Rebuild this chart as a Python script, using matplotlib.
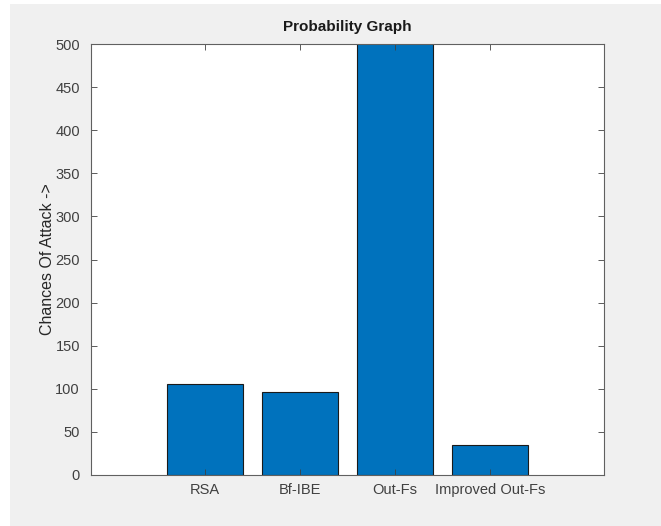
import numpy as np
import matplotlib
matplotlib.use('Agg')
import matplotlib.pyplot as plt
from matplotlib.patches import Rectangle

plt.rcParams['font.family'] = ['Liberation Sans', 'DejaVu Sans']

categories = ['RSA', 'Bf-IBE', 'Out-Fs', 'Improved Out-Fs']
values = [105, 96, 520, 35]

fig = plt.figure(figsize=(6.61, 5.26), dpi=100, facecolor='white')
# grey window area with a thin white strip on top and left
fig.patches.append(Rectangle((10/661, -0.1), 1.2, 1.1 - 4/526, transform=fig.transFigure,
                             facecolor='#f0f0f0', edgecolor='none', zorder=-10))
ax = fig.add_axes([91/661, 1 - 475/526, (604-91)/661, (475-44)/526])

x = np.arange(1, len(categories) + 1)
ax.bar(x, values, width=0.8, color='#0072bd', edgecolor='#1a1a1a', linewidth=0.8)

ax.set_xlim(-0.2, 5.2)
ax.set_ylim(0, 500)
ax.set_xticks(x)
ax.set_xticklabels(categories)
ax.set_yticks(np.arange(0, 501, 50))

ax.tick_params(direction='in', top=True, right=True, length=4, width=0.6,
               colors='#404040', labelsize=10.5, pad=6)
ax.tick_params(axis='y', pad=8)
for s in ax.spines.values():
    s.set_color('#606060')
    s.set_linewidth(0.8)

ax.set_ylabel('Chances Of Attack ->', fontsize=11.5, color='#262626', labelpad=0)
ax.set_title('Probability Graph', fontsize=11, fontweight='bold', color='#1a1a1a', pad=9)

fig.savefig('out.png', dpi=100, facecolor=fig.get_facecolor())
